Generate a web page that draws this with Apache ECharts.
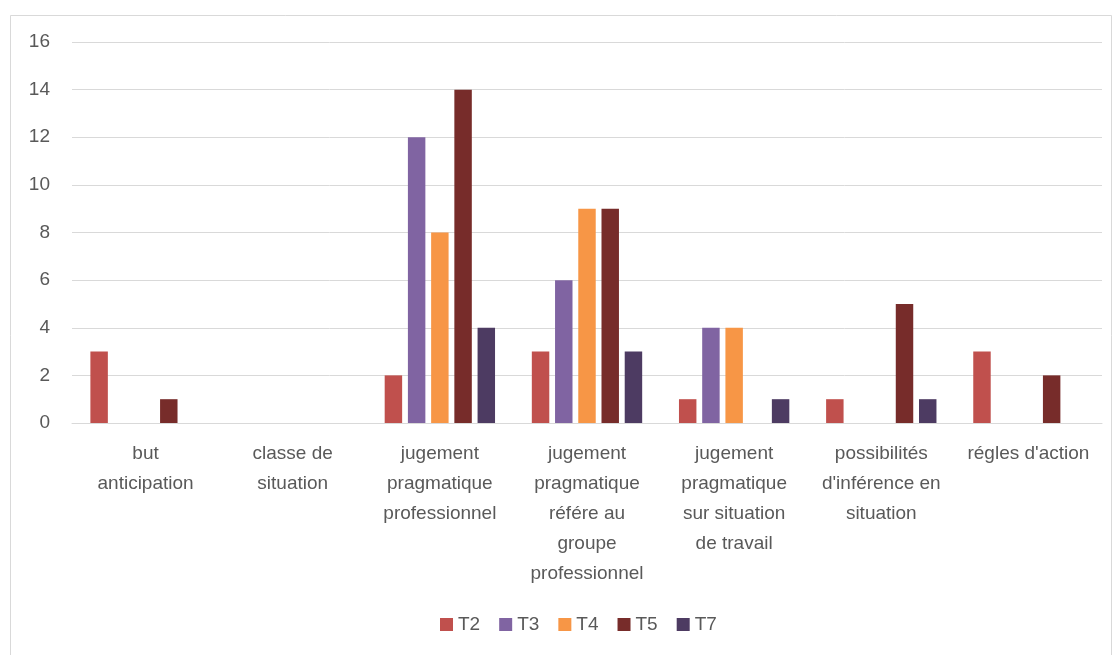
<!DOCTYPE html>
<html>
<head>
<meta charset="utf-8">
<script src="https://cdn.jsdelivr.net/npm/echarts@6/dist/echarts.min.js"></script>
<style>html,body{margin:0;padding:0;background:#fff;}#c{width:1118px;height:655px;}</style>
</head>
<body>
<div id="c"></div>
<script>
const categories = [
  "but\nanticipation",
  "classe de\nsituation",
  "jugement\npragmatique\nprofessionnel",
  "jugement\npragmatique\nréfére au\ngroupe\nprofessionnel",
  "jugement\npragmatique\nsur situation\nde travail",
  "possibilités\nd'inférence en\nsituation",
  "régles d'action"
];
const seriesNames = ["T2", "T3", "T4", "T5", "T7"];
const T2 = [3, 0, 2, 3, 1, 1, 3];
const T3 = [0, 0, 12, 6, 4, 0, 0];
const T4 = [0, 0, 8, 9, 4, 0, 0];
const T5 = [1, 0, 14, 9, 0, 5, 2];
const T7 = [0, 0, 4, 3, 1, 1, 0];
const colors = ["#C0504D", "#8064A2", "#F79646", "#772C2A", "#4D3B62"];
const yTicks = {min: 0, max: 16, interval: 2};

const values = [T2, T3, T4, T5, T7];
const FONT = "Liberation Sans";
const chart = echarts.init(document.getElementById('c'), null, {renderer: 'canvas'});
chart.setOption({
  animation: false,
  backgroundColor: '#fff',
  textStyle: {fontFamily: FONT},
  graphic: [{
    type: 'rect', left: 8, top: 13, silent: true,
    shape: {x: 0, y: 0, width: 1101, height: 660},
    style: {fill: 'none', stroke: '#d9d9d9', lineWidth: 1}
  }],
  grid: {left: 72, right: 16, top: 42, bottom: 232, containLabel: false},
  legend: {
    top: 610, left: 435,
    itemWidth: 13, itemHeight: 13, itemGap: 19,
    icon: 'rect',
    textStyle: {color: '#595959', fontSize: 19, fontFamily: FONT},
    data: seriesNames
  },
  xAxis: {
    type: 'category', data: categories,
    axisLine: {lineStyle: {color: '#d9d9d9', width: 1}},
    axisTick: {show: false},
    axisLabel: {interval: 0, color: '#595959', fontSize: 19, lineHeight: 30, margin: 16, fontFamily: FONT}
  },
  yAxis: {
    type: 'value', min: yTicks.min, max: yTicks.max, interval: yTicks.interval,
    axisLine: {show: false}, axisTick: {show: false},
    splitLine: {lineStyle: {color: '#d9d9d9', width: 1}},
    axisLabel: {color: '#595959', fontSize: 19, margin: 22, fontFamily: FONT}
  },
  series: seriesNames.map((n, i) => ({
    name: n, type: 'bar', data: values[i],
    barGap: '33%', barCategoryGap: '25%',
    itemStyle: {color: colors[i]}
  }))
});
</script>
</body>
</html>
